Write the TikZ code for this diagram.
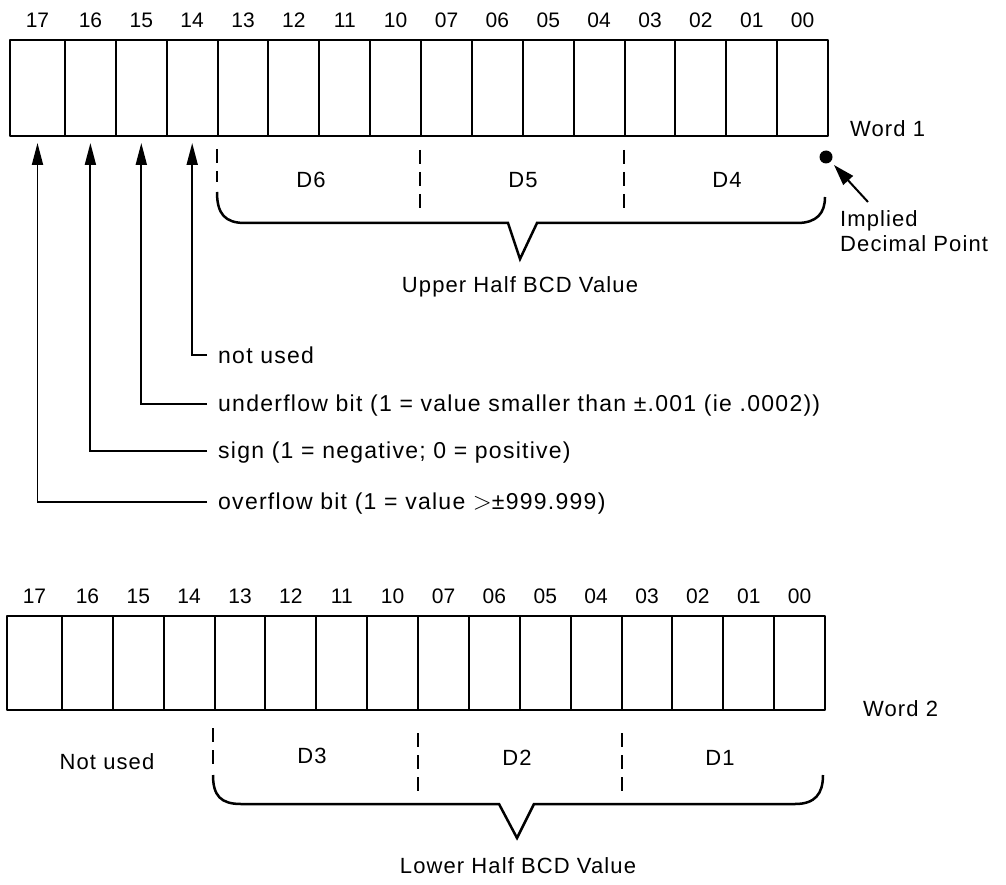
\documentclass[tikz,border=0pt]{standalone}
\usepackage{fontspec}
\setmainfont{Liberation Sans}[LetterSpace=5]
\newfontfamily\digfont{Liberation Sans}
\newfontfamily\leadfont{Liberation Sans}[LetterSpace=5.5]
\usetikzlibrary{arrows.meta}
\begin{document}
\begin{tikzpicture}[x=1pt,y=-1pt,
  lab/.style={font=\fontsize{22}{26}\selectfont, inner sep=0pt},
  leadlab/.style={font=\leadfont\fontsize{23}{27}\selectfont, inner sep=0pt, anchor=base west},
  dig/.style={font=\digfont\fontsize{21}{24}\selectfont, inner sep=0pt},
  wordbox/.style={line width=2.8pt, line join=round},
  divline/.style={line width=2pt},
  dsh/.style={line width=1.7pt, dash pattern=on 14pt off 8pt},
  bracepath/.style={line width=2.5pt, line join=miter},
  lead/.style={line width=1.9pt, -{Triangle[width=11pt,length=22pt]}},
]
\useasboundingbox (0,0) rectangle (1006,885);

% ---------- Word 1 ----------
\draw[wordbox] (10,40) rectangle (828,136);
\foreach \i in {0,...,14} \draw[divline] ({65+\i*50.87},40) -- ({65+\i*50.87},136);
\foreach \t [count=\k from 0] in {17,16,15,14,13,12,11,10,07,06,05,04,03,02,01,00} {
  \pgfmathsetmacro\cx{ifthenelse(\k==0,37.5,65+(\k-0.5)*50.87)}
  \node[dig] (a\k) at (\cx,20) {\t};
}
\node[lab, anchor=west] (word1) at (850,129) {Word 1};

% bit arrows
\coordinate (t17) at (37.5,143);
\coordinate (t16) at (90.4,143);
\coordinate (t15) at (141.3,143);
\coordinate (t14) at (192.2,143);
\node[leadlab] (l14) at (218,363) {not used};
\node[leadlab] (l15) at (218,411) {underflow bit (1 = value smaller than ±.001 (ie .0002))};
\node[leadlab] (l16) at (218,458) {sign (1 = negative; 0 = positive)};
\node[leadlab] (l17) at (218,509) {overflow bit (1 = value $>$±999.999)};
\coordinate (e14) at (207,355);
\coordinate (e15) at (207,404);
\coordinate (e16) at (207,451);
\coordinate (e17) at (207,502);
\draw[lead] (e14) -| (t14);
\draw[lead] (e15) -| (t15);
\draw[lead] (e16) -| (t16);
\draw[lead] (e17) -| (t17);

% digit groups
\draw[dsh] (217,149) -- (217,182);
\draw[dsh] (420,150) -- (420,216);
\draw[dsh] (624,150) -- (624,216);
\node[lab] (d6) at (311,180) {D6};
\node[lab] (d5) at (523,180) {D5};
\node[lab] (d4) at (727,180) {D4};
\draw[bracepath] (217,192) .. controls (217,214) and (225,223) .. (245,223) -- (508,223) -- (520,259) -- (537,223) -- (797,223) .. controls (817,223) and (825,213) .. (825,197);
\node[lab] (upper) at (520,287) {Upper Half BCD Value};

% implied decimal point
\fill (826,157) circle (6.5);
\node[lab, anchor=west, align=left] (implied) at (840,231) {Implied\\[-1pt]Decimal Point};
\coordinate (ptr) at (868,202);
\draw[line width=2pt, -{Triangle[width=13pt,length=21pt]}] (ptr) -- (834,165);

% ---------- Word 2 ----------
\draw[wordbox] (7,616) rectangle (825,710);
\foreach \i in {0,...,14} \draw[divline] ({62+\i*50.87},616) -- ({62+\i*50.87},710);
\foreach \t [count=\k from 0] in {17,16,15,14,13,12,11,10,07,06,05,04,03,02,01,00} {
  \pgfmathsetmacro\cx{ifthenelse(\k==0,34.5,62+(\k-0.5)*50.87)}
  \node[dig] (b\k) at (\cx,596) {\t};
}
\node[lab, anchor=west] (word2) at (863,709) {Word 2};

\node[lab] (notused) at (107,762) {Not used};
\draw[dsh] (213,728) -- (213,765);
\draw[dsh] (418,733) -- (418,796);
\draw[dsh] (622,733) -- (622,796);
\node[lab] (d3) at (312,756) {D3};
\node[lab] (d2) at (517,758) {D2};
\node[lab] (d1) at (720,758) {D1};
\draw[bracepath] (213,775) .. controls (213,796) and (221,804) .. (241,804) -- (499,804) -- (517,838) -- (534,804) -- (795,804) .. controls (815,804) and (823,794) .. (823,775);
\node[lab] (lower) at (518,866) {Lower Half BCD Value};
\end{tikzpicture}
\end{document}
